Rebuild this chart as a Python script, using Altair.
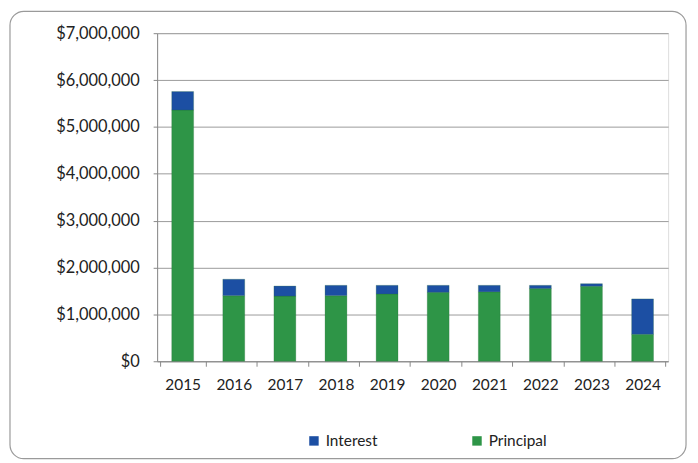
import altair as alt
import pandas as pd

years = ["2015", "2016", "2017", "2018", "2019", "2020", "2021", "2022", "2023", "2024"]
principal = [5360000, 1400000, 1390000, 1400000, 1435000, 1470000, 1480000, 1550000, 1600000, 575000]
interest = [395000, 350000, 215000, 220000, 185000, 150000, 140000, 70000, 55000, 755000]

rows = []
for y, p, i in zip(years, principal, interest):
    rows.append({"year": y, "series": "Principal", "value": p, "ord": 0})
    rows.append({"year": y, "series": "Interest", "value": i, "ord": 1})
df = pd.DataFrame(rows)

FONT = "Lato"

bars = alt.Chart(df).mark_bar(size=22, stroke="#1f6b35", strokeWidth=0.5, strokeOpacity=0.5).encode(
    x=alt.X("year:N", title=None, sort=years,
            axis=alt.Axis(labelAngle=0, labelFontSize=15.5, labelColor="#222222", labelFont=FONT,
                          tickBand="extent", ticks=True, tickColor="#888888", domainColor="#888888",
                          labelPadding=11)),
    y=alt.Y("value:Q", title=None, stack="zero",
            scale=alt.Scale(domain=[0, 7000000]),
            axis=alt.Axis(values=[0, 1000000, 2000000, 3000000, 4000000, 5000000, 6000000, 7000000],
                          format="$,.0f", labelFontSize=16.5, labelColor="#222222", labelFont=FONT,
                          gridColor="#9a9a9a", gridWidth=1, domainColor="#888888",
                          tickColor="#888888", tickSize=4, labelPadding=14)),
    color=alt.Color("series:N",
                    scale=alt.Scale(domain=["Interest", "Principal"], range=["#1c4fa3", "#2e9547"]),
                    legend=alt.Legend(title=None, orient="none", legendX=150, legendY=402,
                                      direction="horizontal", columns=2, columnPadding=92,
                                      labelFontSize=15.5, labelColor="#222222", labelFont=FONT,
                                      symbolType="square", symbolSize=90, symbolStrokeWidth=0,
                                      labelLimit=200)),
    order=alt.Order("ord:Q"),
)

frame = alt.Chart(pd.DataFrame({"a": [0]})).mark_rect(
    fill=None, stroke="#9a9a9a", strokeWidth=1.2, cornerRadius=14
).encode(
    x=alt.value(-148), x2=alt.value(532), y=alt.value(-22), y2=alt.value(428)
)

chart = alt.layer(frame, bars).properties(
    width=514, height=330,
    autosize=alt.AutoSizeParams(type="none"),
    padding={"left": 150, "top": 24, "right": 22, "bottom": 100},
).configure_view(stroke=None).configure(background="white")

chart.save("out.html", embed_options={"renderer": "svg", "actions": False})
